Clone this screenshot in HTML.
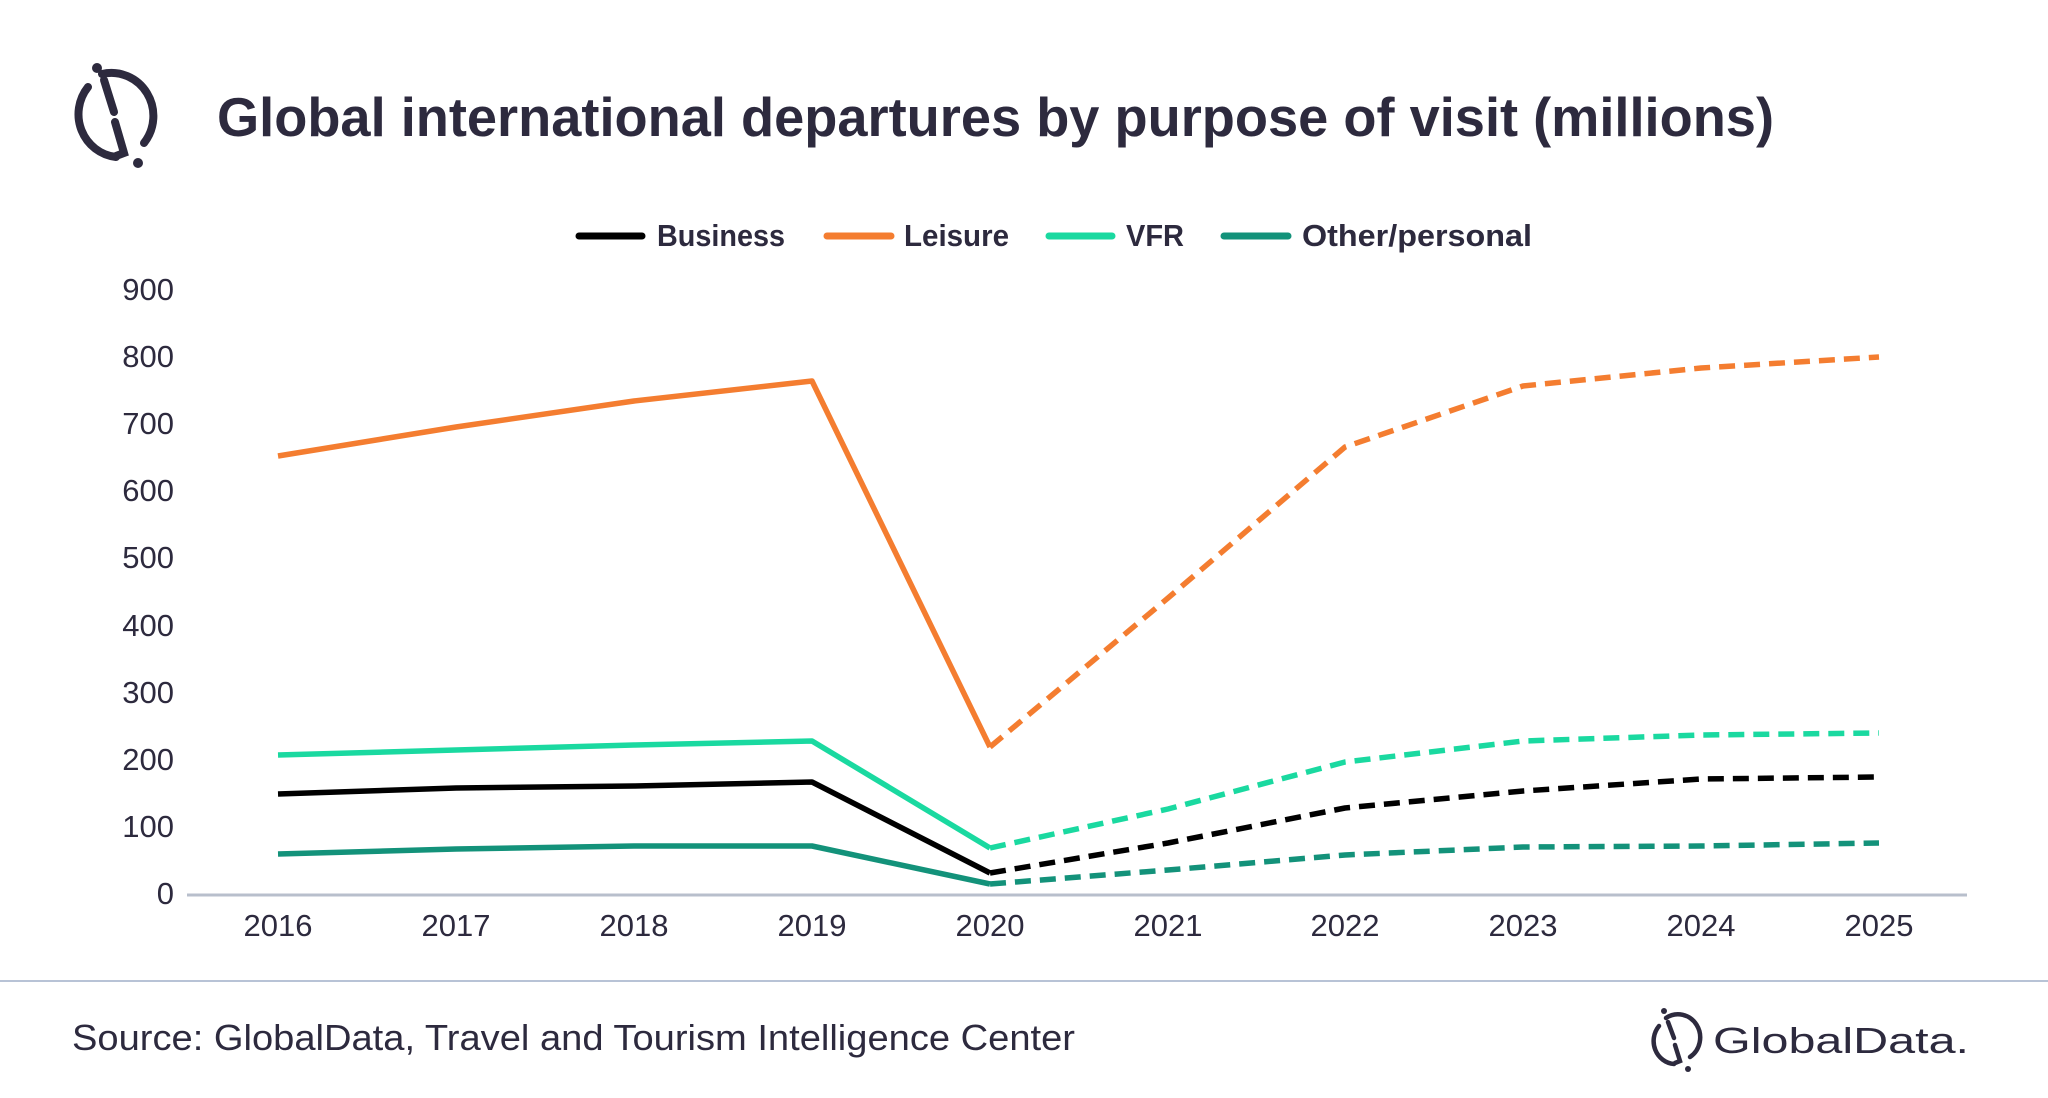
<!DOCTYPE html>
<html><head><meta charset="utf-8"><style>
html,body{margin:0;padding:0;background:#fff;}
svg{display:block;}
text{font-family:"Liberation Sans",sans-serif;fill:#2d2a3e;}
</style></head><body>
<svg width="2048" height="1098" viewBox="0 0 2048 1098" xmlns="http://www.w3.org/2000/svg">
<rect width="2048" height="1098" fill="#fff"/>
<!-- big logo -->
<g fill="none" stroke="#2d2a3e" stroke-width="8" stroke-linecap="round">
  <path d="M88 87 A42 43 0 0 0 116 157"/>
  <path d="M102 74 A42 43 0 0 1 144 143"/>
  <path d="M104 80 L114 112"/>
  <path d="M115 122 L124 153 L116 156"/>
</g>
<circle cx="97" cy="68" r="5" fill="#2d2a3e"/>
<circle cx="138" cy="163" r="5" fill="#2d2a3e"/>
<text x="217" y="136" font-size="55" font-weight="bold" textLength="1557" lengthAdjust="spacingAndGlyphs">Global international departures by purpose of visit (millions)</text>
<!-- legend -->
<g stroke-width="7" stroke-linecap="round">
<line x1="579" y1="236" x2="642" y2="236" stroke="#000"/>
<line x1="827" y1="236" x2="891" y2="236" stroke="#f47d30"/>
<line x1="1049" y1="236" x2="1112" y2="236" stroke="#1ad9a0"/>
<line x1="1224" y1="236" x2="1288" y2="236" stroke="#13927a"/>
</g>
<g font-size="31" font-weight="bold">
<text x="657" y="246" textLength="128" lengthAdjust="spacingAndGlyphs">Business</text>
<text x="904" y="246" textLength="105" lengthAdjust="spacingAndGlyphs">Leisure</text>
<text x="1126" y="246" textLength="58" lengthAdjust="spacingAndGlyphs">VFR</text>
<text x="1302" y="246" textLength="230" lengthAdjust="spacingAndGlyphs">Other/personal</text>
</g>
<!-- y axis labels -->
<g font-size="31" text-anchor="end" fill="#2d2a3e">
<text x="174" y="904">0</text>
<text x="174" y="837">100</text>
<text x="174" y="770">200</text>
<text x="174" y="703">300</text>
<text x="174" y="636">400</text>
<text x="174" y="568">500</text>
<text x="174" y="501">600</text>
<text x="174" y="434">700</text>
<text x="174" y="367">800</text>
<text x="174" y="300">900</text>
</g>
<line x1="187" y1="895" x2="1967" y2="895" stroke="#b8bfcc" stroke-width="3"/>
<g font-size="31" text-anchor="middle">
<text x="278" y="936">2016</text><text x="456" y="936">2017</text><text x="634" y="936">2018</text>
<text x="812" y="936">2019</text><text x="990" y="936">2020</text><text x="1168" y="936">2021</text>
<text x="1345" y="936">2022</text><text x="1523" y="936">2023</text><text x="1701" y="936">2024</text>
<text x="1879" y="936">2025</text>
</g>
<!-- series: y = 893 - v*0.6711 -->
<g fill="none" stroke-width="5.5" stroke-linejoin="round">
<polyline stroke="#f47d30" points="278,456 456,427 634,401 812,381 990,747"/>
<polyline stroke="#f47d30" stroke-dasharray="16,9" points="990,747 1168,598 1345,447 1523,386 1701,368 1879,357"/>
<polyline stroke="#1ad9a0" points="278,755 456,750 634,745 812,741 990,848"/>
<polyline stroke="#1ad9a0" stroke-dasharray="16,9" points="990,848 1168,809 1345,762 1523,741 1701,735 1879,733"/>
<polyline stroke="#000" points="278,794 456,788 634,786 812,782 990,873"/>
<polyline stroke="#000" stroke-dasharray="16,9" points="990,873 1168,843 1345,808 1523,791 1701,779 1879,777"/>
<polyline stroke="#13927a" points="278,854 456,849 634,846 812,846 990,884"/>
<polyline stroke="#13927a" stroke-dasharray="16,9" points="990,884 1168,870 1345,855 1523,847 1701,846 1879,843"/>
</g>
<line x1="0" y1="981" x2="2048" y2="981" stroke="#b8c3d6" stroke-width="2"/>
<text x="72" y="1050" font-size="36" textLength="1003" lengthAdjust="spacingAndGlyphs">Source: GlobalData, Travel and Tourism Intelligence Center</text>
<!-- small logo -->
<g fill="none" stroke="#2d2a3e" stroke-width="4.5" stroke-linecap="round">
  <path d="M1659 1026 A22 23 0 0 0 1674 1064"/>
  <path d="M1666 1018 A22 23 0 0 1 1690 1057"/>
  <path d="M1668 1022 L1674 1038"/>
  <path d="M1675 1045 L1680 1061 L1675 1063"/>
</g>
<circle cx="1664" cy="1011" r="3" fill="#2d2a3e"/>
<circle cx="1688" cy="1069" r="3" fill="#2d2a3e"/>
<text x="1713" y="1053" font-size="36" textLength="256" lengthAdjust="spacingAndGlyphs">GlobalData.</text>
</svg>
</body></html>
